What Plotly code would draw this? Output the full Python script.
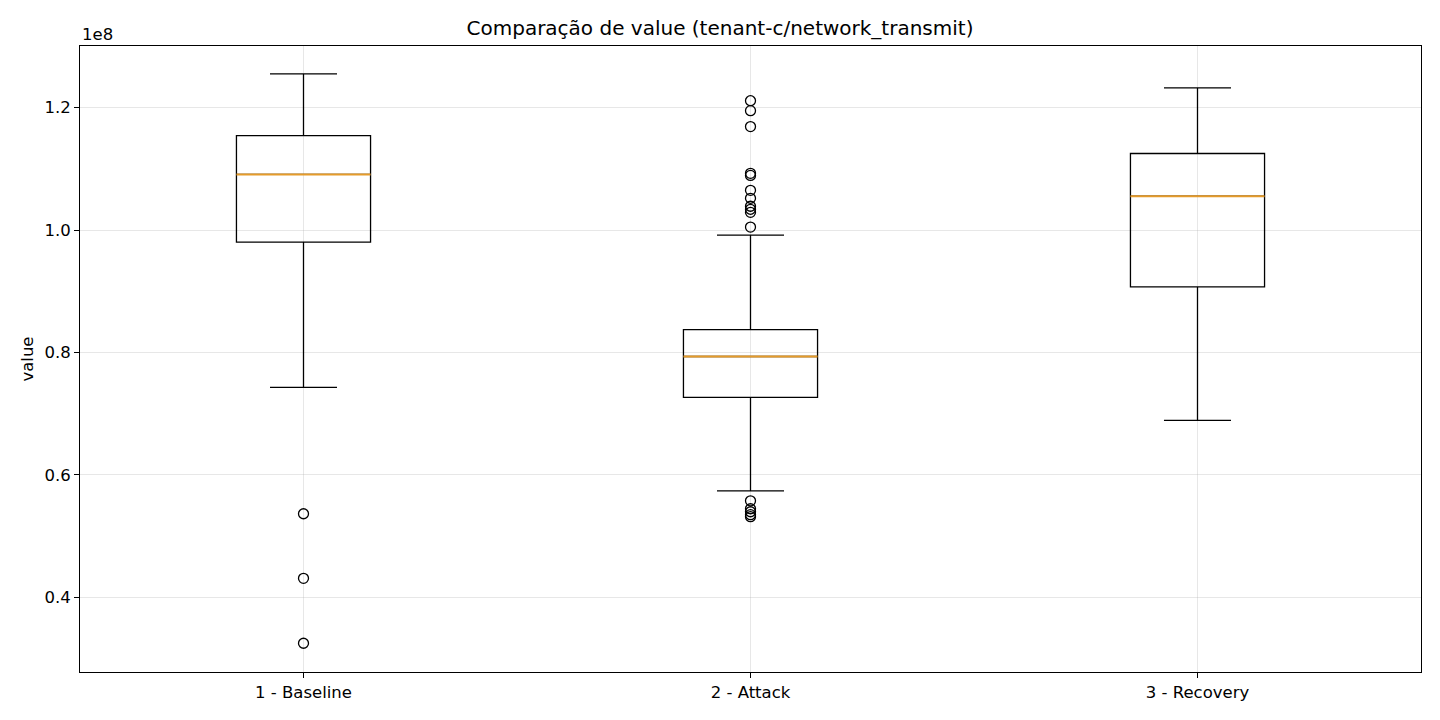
"""Boxplot of network_transmit per phase (tenant-c)."""

import plotly.graph_objects as go

# Phases on the x axis
phases = ["1 - Baseline", "2 - Attack", "3 - Recovery"]

# Box statistics per phase (raw units)
lower_whisker = [0.743e8, 0.574e8, 0.689e8]
q1 = [0.9805e8, 0.7268e8, 0.9073e8]
median = [1.091e8, 0.7935e8, 1.0553e8]
q3 = [1.1545e8, 0.8374e8, 1.1252e8]
upper_whisker = [1.2553e8, 0.9919e8, 1.2325e8]

# Outliers (phase, value)
outlier_phase = (
    ["1 - Baseline"] * 3
    + ["2 - Attack"] * 16
)
outlier_value = [
    0.5366e8, 0.431e8, 0.325e8,
    1.2114e8, 1.1951e8, 1.1691e8, 1.0927e8, 1.0894e8, 1.065e8,
    1.052e8, 1.039e8, 1.034e8, 1.029e8, 1.0049e8,
    0.5577e8, 0.5447e8, 0.5398e8, 0.535e8, 0.5317e8,
]

y_ticks = [0.4e8, 0.6e8, 0.8e8, 1.0e8, 1.2e8]
y_tick_text = [f"{v / 1e8:.1f}" for v in y_ticks]

FONT = "DejaVu Sans"
MEDIAN_COLOR = "#e59b2a"
BOX_WIDTH = 0.3

fig = go.Figure()

fig.add_trace(go.Box(
    x=phases,
    q1=q1,
    median=median,
    q3=q3,
    lowerfence=lower_whisker,
    upperfence=upper_whisker,
    boxpoints=False,
    width=BOX_WIDTH,
    fillcolor="rgba(0,0,0,0)",
    line=dict(color="black", width=1.3),
    whiskerwidth=0.5,
    showlegend=False,
    hoverinfo="skip",
))

# orange median line drawn as a flat box on top
fig.add_trace(go.Box(
    x=phases,
    q1=median,
    median=median,
    q3=median,
    lowerfence=median,
    upperfence=median,
    boxpoints=False,
    width=BOX_WIDTH,
    fillcolor="rgba(0,0,0,0)",
    line=dict(color=MEDIAN_COLOR, width=2),
    whiskerwidth=0,
    showlegend=False,
))

fig.add_trace(go.Scatter(
    x=outlier_phase,
    y=outlier_value,
    mode="markers",
    marker=dict(symbol="circle-open", size=10, color="black", line=dict(width=1.3)),
    showlegend=False,
))

# the page body adds an 8px offset, so the figure is 16px smaller than the window
fig.update_layout(
    width=1424,
    height=704,
    template="plotly_white",
    plot_bgcolor="white",
    paper_bgcolor="white",
    font=dict(family=FONT, size=16.5, color="black"),
    title=dict(
        text="Comparação de value (tenant-c/network_transmit)",
        x=0.5, xanchor="center", y=1 - 20 / 704, yanchor="middle",
        font=dict(size=20),
    ),
    margin=dict(l=72, r=10, t=38, b=36),
    boxmode="overlay",
    annotations=[dict(
        text="1e8", xref="paper", yref="paper", x=0, y=1,
        xanchor="left", yanchor="bottom", yshift=0, showarrow=False,
        font=dict(size=16.5),
    )],
)

fig.update_xaxes(
    type="category",
    range=[-0.5, 2.5],
    showline=True, linecolor="black", linewidth=1, mirror=True,
    showgrid=True, gridcolor="rgba(176,176,176,0.3)", gridwidth=1,
    ticks="outside", ticklen=5, tickcolor="black",
    tickfont=dict(size=16.5),
    zeroline=False,
)
fig.update_yaxes(
    range=[0.278e8, 1.3008e8],
    tickvals=y_ticks,
    ticktext=y_tick_text,
    tickfont=dict(size=16.5),
    title=dict(text="value", standoff=6, font=dict(size=16.5)),
    showline=True, linecolor="black", linewidth=1, mirror=True,
    showgrid=True, gridcolor="rgba(176,176,176,0.3)", gridwidth=1,
    ticks="outside", ticklen=5, tickcolor="black",
    zeroline=False,
)

fig.write_html("out.html")
